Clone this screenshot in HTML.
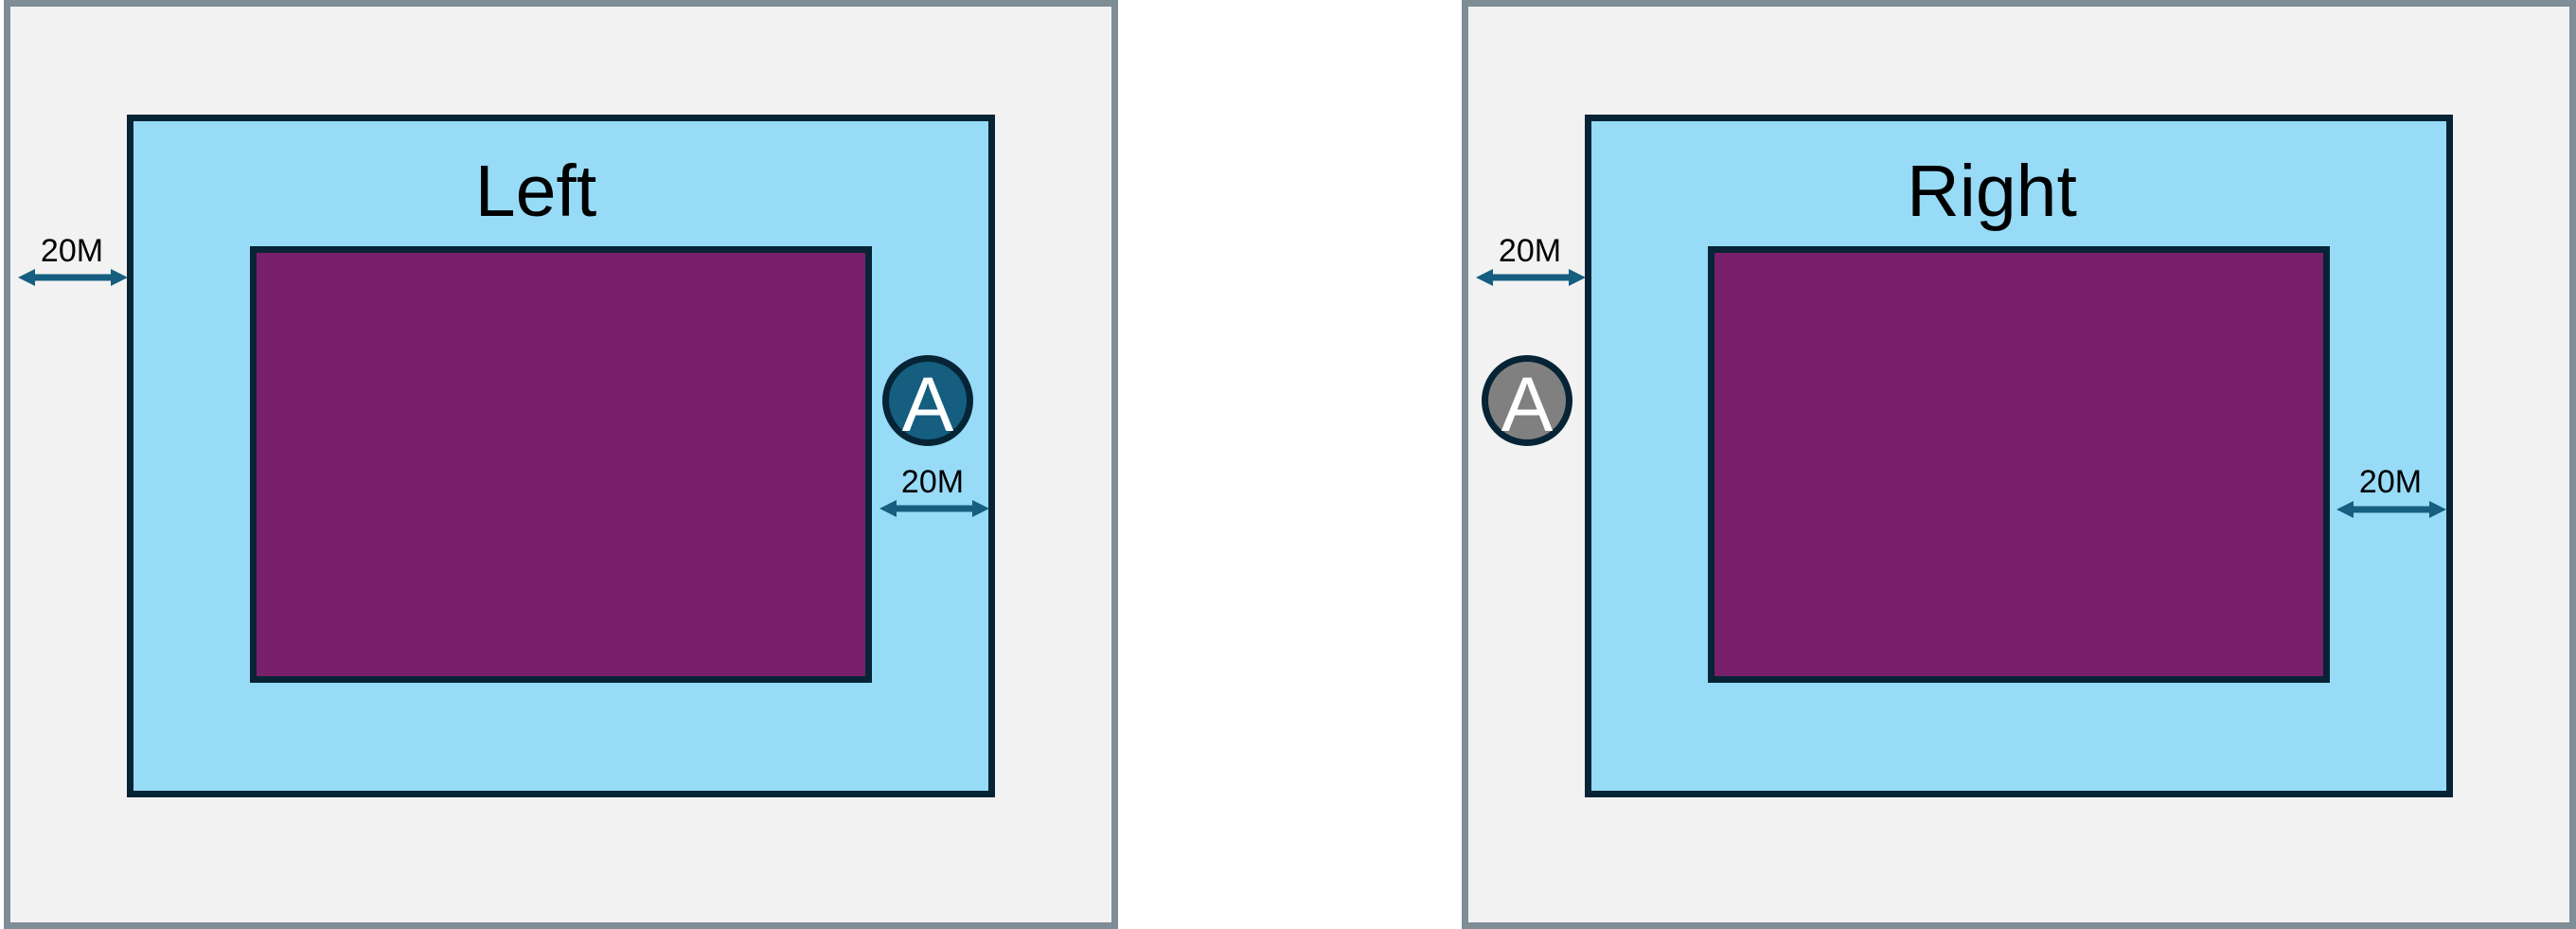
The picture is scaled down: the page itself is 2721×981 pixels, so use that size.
<!DOCTYPE html>
<html><head><meta charset="utf-8"><style>
html,body{margin:0;padding:0;background:#fff;}
svg{display:block;}
text{font-family:"Liberation Sans",sans-serif;}
</style></head><body>
<svg width="2721" height="981" viewBox="0 0 2721 981" xmlns="http://www.w3.org/2000/svg">
<defs>
<g id="arr">
<rect x="16" y="-3.5" width="84" height="7" fill="#155e80"/>
<polygon points="0,0 18,-9 18,9" fill="#155e80"/>
<polygon points="116,0 98,-9 98,9" fill="#155e80"/>
</g>
</defs>
<!-- Left -->
<rect x="7.5" y="3.5" width="1170" height="974" fill="#f2f2f2" stroke="#7f8d96" stroke-width="7"/>
<rect x="137.5" y="124.5" width="910" height="714" fill="#97dbf7" stroke="#062435" stroke-width="7"/>
<rect x="267.5" y="263.5" width="650" height="454" fill="#78206b" stroke="#062435" stroke-width="7"/>
<text x="566" y="228" font-size="77" text-anchor="middle" fill="#000">Left</text>
<use href="#arr" x="19" y="293"/>
<text x="76" y="276" font-size="34" text-anchor="middle" fill="#000">20M</text>
<circle cx="980" cy="423" r="44.5" fill="#155e80" stroke="#062435" stroke-width="7"/>
<text x="980" y="455" font-size="82" text-anchor="middle" fill="#fff">A</text>
<use href="#arr" x="929" y="537"/>
<text x="985" y="520" font-size="34" text-anchor="middle" fill="#000">20M</text>
<!-- Right -->
<rect x="1547.5" y="3.5" width="1170" height="974" fill="#f2f2f2" stroke="#7f8d96" stroke-width="7"/>
<rect x="1677.5" y="124.5" width="910" height="714" fill="#97dbf7" stroke="#062435" stroke-width="7"/>
<rect x="1807.5" y="263.5" width="650" height="454" fill="#78206b" stroke="#062435" stroke-width="7"/>
<text x="2104" y="228" font-size="77" text-anchor="middle" fill="#000">Right</text>
<use href="#arr" x="1559" y="293"/>
<text x="1616" y="276" font-size="34" text-anchor="middle" fill="#000">20M</text>
<circle cx="1613" cy="423" r="44.5" fill="#808080" stroke="#062435" stroke-width="7"/>
<text x="1613" y="455" font-size="82" text-anchor="middle" fill="#fff">A</text>
<use href="#arr" x="2468" y="538"/>
<text x="2525" y="520" font-size="34" text-anchor="middle" fill="#000">20M</text>
</svg>
</body></html>
